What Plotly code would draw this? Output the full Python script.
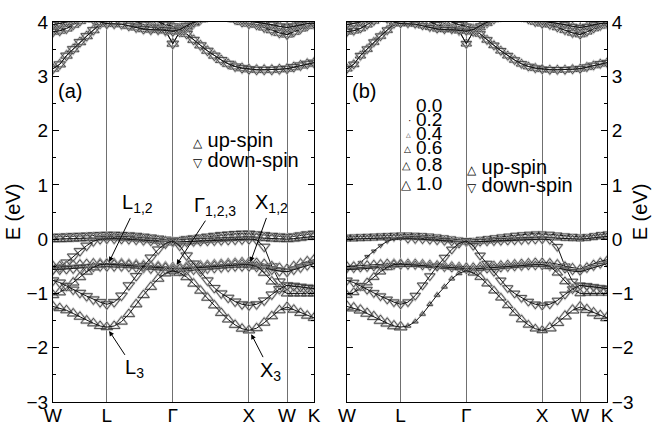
import plotly.graph_objects as go

# ---------------- data ----------------
sym_labels = ["W", "L", "Γ", "X", "W", "K"]
seg_len = [0.707, 0.866, 1.0, 0.5, 0.354]      # |W-L|,|L-Γ|,|Γ-X|,|X-W|,|W-K|  (2π/a)
seg_steps = [8, 9, 11, 5, 4]

# band energies (eV) on the k grid: W..L (9) L..Γ (9) Γ..X (11) X..W (5) W..K (4)
V1 = [0.04, 0.045, 0.05, 0.055, 0.06, 0.065, 0.07, 0.075, 0.08,
      0.08, 0.075, 0.07, 0.06, 0.045, 0.03, 0.01, -0.01, -0.03,
      -0.02, 0.0, 0.015, 0.03, 0.045, 0.06, 0.075, 0.085, 0.095, 0.1, 0.1,
      0.09, 0.075, 0.06, 0.05, 0.04,
      0.05, 0.07, 0.09, 0.1]
V2 = [0.0, 0.0, 0.005, 0.01, 0.015, 0.02, 0.025, 0.03, 0.03,
      0.03, 0.025, 0.02, 0.01, 0.0, -0.015, -0.03, -0.045, -0.06,
      -0.055, -0.045, -0.035, -0.025, -0.015, -0.005, 0.005, 0.015, 0.02, 0.025, 0.03,
      0.025, 0.02, 0.01, 0.005, 0.0,
      0.01, 0.025, 0.04, 0.05]
V3 = [-0.55, -0.52, -0.43, -0.32, -0.22, -0.12, -0.04, 0.0, 0.01,
      0.01, 0.005, 0.0, -0.01, -0.02, -0.03, -0.04, -0.05, -0.05,
      -0.05, -0.045, -0.04, -0.035, -0.03, -0.025, -0.02, -0.015, -0.01, -0.005, 0.0,
      -0.01, -0.14, -0.5, -0.78, -0.86,
      -0.87, -0.88, -0.89, -0.9]
V4 = [-0.5, -0.5, -0.49, -0.48, -0.47, -0.46, -0.45, -0.45, -0.45,
      -0.45, -0.45, -0.46, -0.47, -0.48, -0.49, -0.5, -0.51, -0.52,
      -0.52, -0.51, -0.5, -0.49, -0.48, -0.47, -0.46, -0.45, -0.44, -0.43, -0.43,
      -0.44, -0.46, -0.5, -0.53, -0.55,
      -0.5, -0.45, -0.41, -0.38]
V5 = [-0.56, -0.56, -0.55, -0.54, -0.53, -0.52, -0.51, -0.5, -0.5,
      -0.5, -0.5, -0.51, -0.52, -0.53, -0.54, -0.55, -0.56, -0.58,
      -0.58, -0.57, -0.56, -0.55, -0.54, -0.53, -0.52, -0.51, -0.5, -0.5, -0.5,
      -0.51, -0.53, -0.56, -0.59, -0.6,
      -0.56, -0.52, -0.48, -0.45]
V6 = [-1.03, -0.98, -0.9, -0.8, -0.7, -0.6, -0.52, -0.47, -0.46,
      -0.47, -0.47, -0.48, -0.49, -0.5, -0.51, -0.52, -0.53, -0.55,
      -0.55, -0.54, -0.53, -0.52, -0.51, -0.5, -0.49, -0.48, -0.47, -0.47, -0.47,
      -0.5, -0.62, -0.78, -0.92, -1.0,
      -1.0, -1.0, -1.0, -1.0]
V7 = [-0.76, -0.8, -0.86, -0.93, -0.99, -1.05, -1.11, -1.16, -1.2,
      -1.16, -1.04, -0.85, -0.68, -0.5, -0.34, -0.19, -0.08, -0.03,
      -0.12, -0.3, -0.45, -0.6, -0.76, -0.9, -1.0, -1.08, -1.15, -1.2, -1.22,
      -1.2, -1.13, -1.02, -0.92, -0.85,
      -0.86, -0.88, -0.9, -0.91]
V8 = [-1.24, -1.27, -1.31, -1.37, -1.43, -1.5, -1.55, -1.6, -1.62,
      -1.6, -1.52, -1.38, -1.2, -1.03, -0.88, -0.73, -0.63, -0.58,
      -0.62, -0.7, -0.82, -0.95, -1.08, -1.22, -1.36, -1.48, -1.58, -1.65, -1.68,
      -1.64, -1.54, -1.42, -1.31, -1.25,
      -1.3, -1.36, -1.41, -1.45]
C1 = [3.14, 3.22, 3.38, 3.5, 3.63, 3.74, 3.85, 3.97, 4.08,
      4.15, 4.2, 4.2, 4.15, 4.1, 4.05, 4.0, 3.95, 3.92,
      3.88, 3.78, 3.67, 3.57, 3.47, 3.38, 3.3, 3.23, 3.18, 3.15, 3.13,
      3.12, 3.12, 3.12, 3.13, 3.14,
      3.17, 3.2, 3.23, 3.25]
C2 = [3.82, 3.84, 3.88, 3.95, 4.02, 4.1, 4.15, 4.2, 4.2,
      4.2, 4.15, 4.08, 4.0, 3.95, 3.9, 3.88, 3.84, 3.6,
      3.82, 3.9, 3.98, 4.05, 4.1, 4.15, 4.15, 4.1, 4.05, 4.0, 3.97,
      3.95, 3.9, 3.85, 3.8, 3.77,
      3.82, 3.88, 3.93, 3.97]
C3 = [3.95, 3.97, 4.0, 4.05, 4.1, 4.1, 4.05, 4.0, 3.97,
      3.97, 3.96, 3.93, 3.9, 3.87, 3.86, 3.86, 3.85, 3.83,
      3.86, 3.93, 4.0, 4.08, 4.15, 4.2, 4.2, 4.15, 4.1, 4.05, 4.02,
      4.0, 3.98, 3.95, 3.92, 3.9,
      3.92, 3.95, 3.97, 3.98]

band_spins = {"V1": ["down"], "V2": ["up"], "V3": ["down"], "V4": ["up"],
              "V5": ["down"], "V6": ["up"], "V7": ["down"], "V8": ["up"],
              "C1": ["up", "down"], "C2": ["up", "down"], "C3": ["up", "down"]}
bands = {"V1": V1, "V2": V2, "V3": V3, "V4": V4, "V5": V5, "V6": V6,
         "V7": V7, "V8": V8, "C1": C1, "C2": C2, "C3": C3}

# panel (b): weight of each band on each path segment
weights_b = {"V1": [0.6, 0.6, 0.6, 0.7, 0.6], "V2": [0.6, 0.6, 0.6, 0.6, 0.6],
             "V3": [0.3, 0.8, 0.8, 0.8, 0.6], "V4": [0.8, 0.8, 0.8, 0.8, 0.6],
             "V5": [0.5, 0.5, 0.6, 0.6, 0.5], "V6": [0.8, 0.6, 0.6, 0.8, 0.6],
             "V7": [0.8, 0.8, 0.8, 0.8, 0.8], "V8": [1.0, 0.4, 0.8, 1.0, 1.0],
             "C1": [0.8, 0.8, 0.8, 0.8, 0.8], "C2": [0.8, 0.8, 0.8, 0.8, 0.8],
             "C3": [0.7, 0.7, 0.7, 0.7, 0.7]}
weight_legend = ["0.0", "0.2", "0.4", "0.6", "0.8", "1.0"]

# ---------------- k grid ----------------
k = [0.0]
sym_k = [0.0]
seg_of = [0]
for s, (L, n) in enumerate(zip(seg_len, seg_steps)):
    start = k[-1]
    for i in range(1, n + 1):
        k.append(start + L * i / n)
        seg_of.append(s)
    sym_k.append(start + L)
ktot = sym_k[-1]

fig = go.Figure()
sym_map = {"up": "triangle-up-open", "down": "triangle-down-open"}

for panel, (xa, ya) in enumerate([("x", "y"), ("x2", "y2")]):
    for name, E in bands.items():
        for spin in band_spins[name]:
            if panel == 0:
                sizes = [10] * len(E)
            else:
                w = weights_b[name]
                sizes = [1 + 10 * w[seg_of[i]] for i in range(len(E))]
            # grey halo under the markers
            fig.add_trace(go.Scatter(
                x=k, y=E, xaxis=xa, yaxis=ya, mode="markers",
                marker=dict(symbol=sym_map[spin], size=sizes, color="#b0b0b0",
                            line=dict(width=2.2, color="#b0b0b0")),
                hoverinfo="skip"))
            fig.add_trace(go.Scatter(
                x=k, y=E, xaxis=xa, yaxis=ya, mode="lines+markers",
                line=dict(color="#111", width=1),
                marker=dict(symbol=sym_map[spin], size=sizes, color="#222",
                            line=dict(width=1, color="#222")),
                hoverinfo="skip"))

font = "Liberation Sans, Arial, sans-serif"
axis_common = dict(range=[-3, 4], dtick=1, tick0=0, ticks="inside", ticklen=6,
                   tickwidth=1, tickcolor="black", showline=True, linecolor="black",
                   linewidth=1, mirror="ticks", showgrid=False, zeroline=False,
                   automargin=False,
                   minor=dict(dtick=0.5, ticks="inside", ticklen=3, tickcolor="black"),
                   tickfont=dict(size=19, family=font, color="black"),
                   title=dict(text="E (eV)", font=dict(size=20, family=font), standoff=0))
xcommon = dict(range=[0, ktot], tickvals=sym_k, ticktext=sym_labels, ticks="",
               showgrid=True, gridcolor="#707070", gridwidth=1, showline=True,
               linecolor="black", linewidth=1, mirror=True, zeroline=False,
               automargin=False, ticklabelstandoff=-4,
               tickfont=dict(size=19, family=font, color="black"))

fig.update_layout(
    width=668, height=422, margin=dict(l=53, r=61, t=22, b=20, autoexpand=False),
    paper_bgcolor="white", plot_bgcolor="white", showlegend=False,
    font=dict(family=font, size=20, color="black"),
    xaxis=dict(domain=[0, 261 / 554], anchor="y", **xcommon),
    xaxis2=dict(domain=[294 / 554, 1], anchor="y2", **xcommon),
    yaxis=dict(anchor="x", side="left", **axis_common),
    yaxis2=dict(anchor="x2", side="right", **axis_common),
)

def px(x):
    return (x - 53) / 554

def py(y):
    return (402 - y) / 380

ann = []
def text(x, y, t, size=20, xanchor="left"):
    ann.append(dict(x=px(x), y=py(y), xref="paper", yref="paper", text=t,
                    showarrow=False, xanchor=xanchor, yanchor="middle",
                    font=dict(size=size, family=font, color="black")))

text(56, 91, "(a)")
text(350, 91, "(b)")
up_t = '<span style="font-size:12px">△</span> up-spin'
dn_t = '<span style="font-size:12px">▽</span> down-spin'
text(191, 140, up_t)
text(191, 160, dn_t)
text(465, 167, up_t)
text(465, 185, dn_t)

wy = [105.5, 119.5, 133.5, 147.5, 164, 183.5]
glyph = ["", "·", "△", "△", "△", "△"]
gsize = [6, 10, 6, 9, 11, 13]
for lab, yy, g, gs in zip(weight_legend, wy, glyph, gsize):
    text(414, yy, lab, size=19)
    if g:
        text(413, yy + 1, g, size=gs, xanchor="right")

# labelled arrows in panel (a)
arrows = [("L<sub>1,2</sub>", sym_k[1] + 0.03, -0.42, 28, -58),
          ("Γ<sub>1,2,3</sub>", sym_k[2] + 0.05, -0.47, 38, -58),
          ("X<sub>1,2</sub>", sym_k[3] + 0.02, -0.42, 21, -58),
          ("L<sub>3</sub>", sym_k[1] + 0.03, -1.69, 25, 38),
          ("X<sub>3</sub>", sym_k[3] + 0.03, -1.75, 19, 37)]
for t, xx, yy, ax, ay in arrows:
    ann.append(dict(x=xx, y=yy, xref="x", yref="y", text=t, showarrow=True,
                    ax=ax, ay=ay, axref="pixel", ayref="pixel",
                    arrowhead=2, arrowsize=1, arrowwidth=1, arrowcolor="black",
                    standoff=0, font=dict(size=20, family=font, color="black")))

fig.update_layout(annotations=ann)
fig.write_html("out.html")
